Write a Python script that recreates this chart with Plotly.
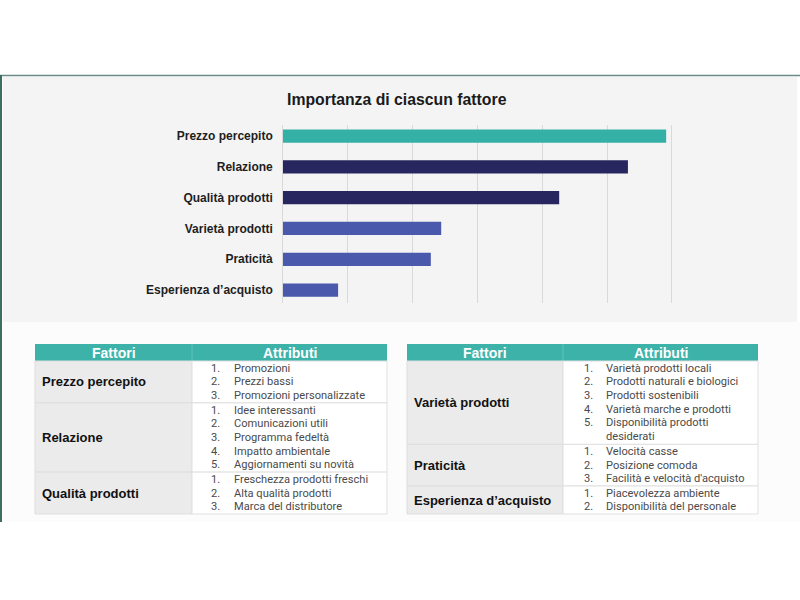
import plotly.graph_objects as go

# ---------------- data ----------------
factors = ["Prezzo percepito", "Relazione", "Qualità prodotti",
           "Varietà prodotti", "Praticità", "Esperienza d’acquisto"]
importance = [5.91, 5.32, 4.26, 2.44, 2.28, 0.85]
bar_colors = ["#35b0a6", "#27265f", "#27265f", "#4a59ab", "#4a59ab", "#4a59ab"]
chart_title = "Importanza di ciascun fattore"

header_labels = ["Fattori", "Attributi"]

left_factors = ["Prezzo percepito", "Relazione", "Qualità prodotti"]
left_attrs = [
    ["Promozioni", "Prezzi bassi", "Promozioni personalizzate"],
    ["Idee interessanti", "Comunicazioni utili", "Programma fedeltà",
     "Impatto ambientale", "Aggiornamenti su novità"],
    ["Freschezza prodotti freschi", "Alta qualità prodotti", "Marca del distributore"],
]
right_factors = ["Varietà prodotti", "Praticità", "Esperienza d’acquisto"]
right_attrs = [
    ["Varietà prodotti locali", "Prodotti naturali e biologici", "Prodotti sostenibili",
     "Varietà marche e prodotti", "Disponibilità prodotti\ndesiderati"],
    ["Velocità casse", "Posizione comoda", "Facilità e velocità d'acquisto"],
    ["Piacevolezza ambiente", "Disponibilità del personale"],
]

# ---------------- figure ----------------
W, H = 800, 600
def px(x):
    return x / W
def py(y):
    return 1 - y / H

fig = go.Figure()
fig.add_trace(go.Bar(
    x=importance, y=factors, orientation="h",
    marker=dict(color=bar_colors, line=dict(width=0)),
    width=0.43, hoverinfo="x+y",
))

shapes = []
annotations = []

# frame and panels
shapes.append(dict(type="rect", xref="paper", yref="paper", x0=px(3), x1=px(797),
                   y0=py(322), y1=py(77), fillcolor="#f4f4f4", line=dict(width=0), layer="below"))
shapes.append(dict(type="rect", xref="paper", yref="paper", x0=px(3), x1=px(800),
                   y0=py(522), y1=py(322), fillcolor="#fbfcfb", line=dict(width=0), layer="below"))
shapes.append(dict(type="line", xref="paper", yref="paper", x0=0, x1=1,
                   y0=py(75.5), y1=py(75.5), line=dict(color="#6a8a86", width=1.5), layer="below"))
shapes.append(dict(type="line", xref="paper", yref="paper", x0=px(1), x1=px(1),
                   y0=py(522), y1=py(75), line=dict(color="#3e6e62", width=2), layer="below"))

annotations.append(dict(text="<b>" + chart_title + "</b>", x=px(397), y=py(100),
                        xref="paper", yref="paper", showarrow=False,
                        font=dict(family="Liberation Sans", size=15.8, color="#1a1a1a"),
                        xanchor="center", yanchor="middle"))

# ---------------- tables ----------------
HEAD_TOP, HEAD_BOT, TAB_BOT = 344, 361, 514
LH = 13.65
FS = 11.1
WRAP_LH = FS * 1.3

def draw_table(x0, xs, x1, num_x, txt_x, facs, attrs):
    # header
    shapes.append(dict(type="rect", xref="paper", yref="paper", x0=px(x0), x1=px(x1),
                       y0=py(HEAD_BOT), y1=py(HEAD_TOP), fillcolor="#3db2a9",
                       line=dict(width=0)))
    shapes.append(dict(type="line", xref="paper", yref="paper", x0=px(xs), x1=px(xs),
                       y0=py(HEAD_BOT), y1=py(HEAD_TOP), line=dict(color="#5fc3ba", width=1)))
    for lab, cx in zip(header_labels, [(x0 + xs) / 2, (xs + x1) / 2]):
        annotations.append(dict(text="<b>" + lab + "</b>", x=px(cx), y=py((HEAD_TOP + HEAD_BOT) / 2 + 0.5),
                                xref="paper", yref="paper", showarrow=False,
                                font=dict(family="Liberation Sans", size=14, color="white"),
                                xanchor="center", yanchor="middle"))
    # row heights from content
    raw = []
    for items in attrs:
        h = 0
        for it in items:
            h += LH + WRAP_LH * it.count("\n")
        raw.append(h)
    extra = ((TAB_BOT - HEAD_BOT) - sum(raw)) / len(raw)
    heights = [r + extra for r in raw]
    top = HEAD_BOT
    for i, (fac, items) in enumerate(zip(facs, attrs)):
        bot = top + heights[i]
        shapes.append(dict(type="rect", xref="paper", yref="paper", x0=px(x0), x1=px(xs),
                           y0=py(bot), y1=py(top), fillcolor="#ebebeb",
                           line=dict(color="#dedede", width=1)))
        shapes.append(dict(type="rect", xref="paper", yref="paper", x0=px(xs), x1=px(x1),
                           y0=py(bot), y1=py(top), fillcolor="#ffffff",
                           line=dict(color="#e0e0e0", width=1)))
        cy = (top + bot) / 2
        annotations.append(dict(text="<b>" + fac + "</b>", x=px(x0 + 5), y=py(cy),
                                xref="paper", yref="paper", showarrow=False,
                                font=dict(family="Liberation Sans", size=13, color="#111111"),
                                xanchor="left", yanchor="middle"))
        span = (len(items) - 1) * LH + sum(WRAP_LH * it.count("\n") for it in items)
        y = cy - span / 2
        for k, it in enumerate(items):
            nwrap = it.count("\n")
            annotations.append(dict(text=str(k + 1) + ".", x=px(num_x), y=py(y), xref="paper",
                                    yref="paper", showarrow=False, xanchor="left", yanchor="middle",
                                    font=dict(family="Roboto", size=FS, color="#4a4a4a")))
            annotations.append(dict(text=it.replace("\n", "<br>"), x=px(txt_x),
                                    y=py(y + nwrap * WRAP_LH / 2), xref="paper", yref="paper",
                                    showarrow=False, xanchor="left", yanchor="middle", align="left",
                                    font=dict(family="Roboto", size=FS, color="#4a4a4a")))
            y += LH + nwrap * WRAP_LH
        top = bot

draw_table(35, 192, 387, 209, 232, left_factors, left_attrs)
draw_table(407, 563, 758, 582, 604, right_factors, right_attrs)

# x axis: 0 at x=283 px, 6 at x=672 px; range padded slightly so edge gridlines render
UNIT = (672 - 283) / 6
PAD = 0.05
fig.update_layout(
    width=W, height=H,
    margin=dict(l=0, r=0, t=0, b=0),
    paper_bgcolor="white", plot_bgcolor="rgba(0,0,0,0)",
    showlegend=False,
    shapes=shapes, annotations=annotations,
    xaxis=dict(domain=[px(283 - PAD * UNIT), px(672 + PAD * UNIT)], range=[-PAD, 6 + PAD],
               tick0=0, dtick=1,
               showgrid=True, gridcolor="#d9d9d9", gridwidth=1,
               showticklabels=False, zeroline=False, showline=False, fixedrange=True),
    yaxis=dict(domain=[py(303), py(125)], range=[5.42, -0.36], type="category",
               showgrid=False, zeroline=False, showline=False, ticks="",
               ticklabelstandoff=6,
               tickfont=dict(family="Liberation Sans", size=12, color="#1e1e1e", weight="bold"),
               fixedrange=True),
)

fig.write_html("out.html")
